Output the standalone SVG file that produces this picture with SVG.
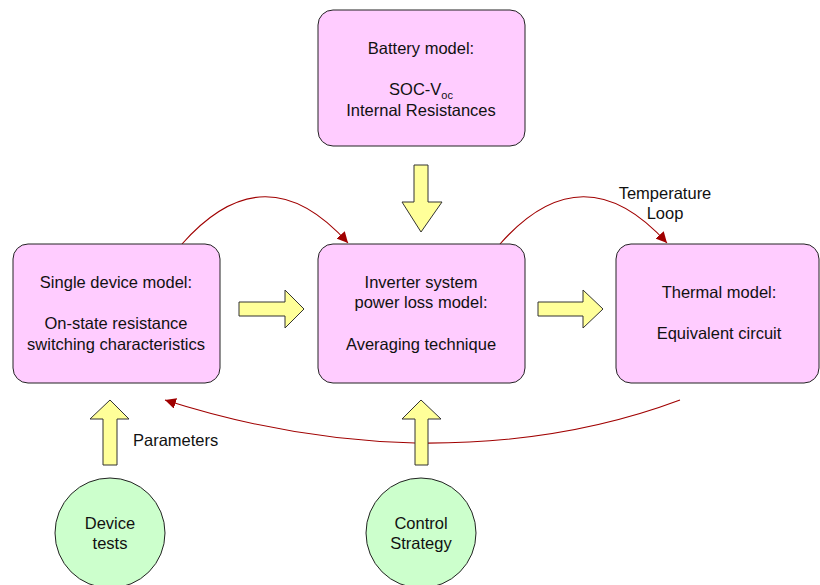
<svg xmlns="http://www.w3.org/2000/svg" width="820" height="585" viewBox="0 0 820 585">
<style>
.box{fill:#FFCCFF;stroke:#222;stroke-width:1}
.circ{fill:#CCFFCC;stroke:#222;stroke-width:1}
.arr{fill:#FFFF99;stroke:#333;stroke-width:1}
.t{font-family:"Liberation Sans",Arial,sans-serif;font-size:16.5px;fill:#111;text-anchor:middle}
.c{fill:none;stroke:#A00000;stroke-width:1.1}
</style>
<defs>
<marker id="ah" viewBox="0 0 10 10" refX="10" refY="5" markerWidth="11" markerHeight="11" markerUnits="userSpaceOnUse" orient="auto">
<path d="M0,0 L10,5 L0,10 z" fill="#A00000"/>
</marker>
</defs>
<rect width="820" height="585" fill="#fff"/>
<g id="connectors">
<path class="c" d="M182,244 Q265,150 348,243" marker-end="url(#ah)"/>
<path class="c" d="M500,244 Q583,150 667,243" marker-end="url(#ah)"/>
<path class="c" d="M680,400 Q560,445 415,443 Q290,440 165,400" marker-end="url(#ah)"/>
</g>
<g id="battery">
<rect class="box" x="318" y="10" width="207" height="136" rx="15"/>
<text class="t" x="421" y="54">Battery model:</text>
<text class="t" x="421" y="95">SOC-V<tspan font-size="11" dy="4">oc</tspan></text>
<text class="t" x="421" y="116">Internal Resistances</text>
</g>
<g id="single">
<rect class="box" x="13" y="244" width="207" height="139" rx="15"/>
<text class="t" x="116" y="288">Single device model:</text>
<text class="t" x="116" y="329">On-state resistance</text>
<text class="t" x="116" y="350">switching characteristics</text>
</g>
<g id="inverter">
<rect class="box" x="318" y="244" width="207" height="139" rx="15"/>
<text class="t" x="421" y="288">Inverter system</text>
<text class="t" x="421" y="308">power loss model:</text>
<text class="t" x="421" y="350">Averaging technique</text>
</g>
<g id="thermal">
<rect class="box" x="616" y="244" width="203" height="139" rx="15"/>
<text class="t" x="719" y="298">Thermal model:</text>
<text class="t" x="719" y="339">Equivalent circuit</text>
</g>
<g id="templabel">
<text class="t" x="665" y="199">Temperature</text>
<text class="t" x="665" y="219">Loop</text>
</g>
<g id="arrows">
<path class="arr" d="M414,165 L428,165 L428,202 L442,202 L421,232 L402,202 L414,202 Z"/>
<path class="arr" d="M239,302 L285,302 L285,290 L304,309 L285,328 L285,316 L239,316 Z"/>
<path class="arr" d="M538,302 L583,302 L583,290 L603,309 L583,328 L583,316 L538,316 Z"/>
<path class="arr" d="M103,465 L103,419 L90,419 L110,400 L129,419 L117,419 L117,465 Z"/>
<path class="arr" d="M415,465 L415,419 L402,419 L421,400 L441,419 L428,419 L428,465 Z"/>
</g>
<g id="params">
<text class="t" x="133" y="446" style="text-anchor:start">Parameters</text>
</g>
<g id="devicetests">
<circle class="circ" cx="110" cy="533" r="55"/>
<text class="t" x="110" y="529">Device</text>
<text class="t" x="110" y="549">tests</text>
</g>
<g id="control">
<circle class="circ" cx="421" cy="533" r="55"/>
<text class="t" x="421" y="529">Control</text>
<text class="t" x="421" y="549">Strategy</text>
</g>
</svg>
